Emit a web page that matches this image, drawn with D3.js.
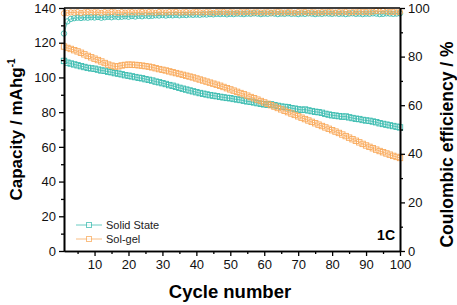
<!DOCTYPE html>
<html>
<head>
<meta charset="utf-8">
<script src="https://cdn.jsdelivr.net/npm/d3@7"></script>
<style>
  body { margin: 0; background: #fff; }
  svg { display: block; font-family: "Liberation Sans", Arial, sans-serif; }
</style>
</head>
<body>
<svg id="chart" width="457" height="305"></svg>
<script>
(function () {

    // capacity, mAh/g, cycles 1..100
    let solidCapacity = [
        109.5, 108.5, 108, 107.5, 107, 106.5, 106, 105.5, 105.2, 105,
        104.5, 104, 103.8, 103.3, 103, 102.5, 102.2, 101.8, 101.3, 101,
        100.6, 100.2, 99.8, 99.5, 99, 98.6, 98.2, 97.6, 97.2, 96.7,
        96.2, 95.6, 95.2, 94.6, 94, 93.5, 93, 92.5, 92, 91.5,
        91, 90.6, 90.2, 89.8, 89.5, 89.2, 88.8, 88.5, 88.2, 88,
        87.6, 87.3, 87, 86.6, 86.2, 86, 85.6, 85.2, 84.8, 84.5,
        84.3, 84.5, 84, 83.6, 83.2, 83, 82.8, 82.3, 82, 81.6,
        81.3, 81.5, 81, 80.6, 80.2, 80, 79.6, 79, 78.6, 78.2,
        78, 77.7, 77.4, 77.5, 77, 76.6, 76.2, 76, 75.5, 75.2,
        75, 74.6, 74.2, 73.6, 73.2, 72.8, 72.4, 72, 71.6, 71.2
    ];
    let solgelCapacity = [
        117.8, 117, 116.4, 115.7, 115, 114.2, 113.3, 112.4, 111.6, 110.8,
        110, 109.2, 108.3, 107.4, 106.8, 106.3, 106.4, 106.9, 107.2, 107.4,
        107.3, 107.2, 107, 106.8, 106.5, 106.2, 105.8, 105.3, 104.8, 104.4,
        104, 103.5, 103, 102.5, 102, 101.5, 101, 100.5, 100, 99.4,
        98.8, 98.2, 97.6, 97, 96.4, 95.8, 95.2, 94.5, 93.8, 93.1,
        92.4, 91.7, 91, 90.3, 89.5, 88.7, 88, 87.2, 86.4, 85.6,
        84.8, 84, 83.2, 82.4, 81.6, 80.8, 80, 79.2, 78.4, 77.6,
        76.8, 76, 75.2, 74.4, 73.6, 72.8, 72, 71.2, 70.4, 69.6,
        68.8, 68, 67.1, 66.2, 65.3, 64.4, 63.5, 62.6, 61.7, 60.8,
        60, 59.2, 58.4, 57.6, 56.9, 56.2, 55.5, 54.8, 54.2, 53.6
    ];
    // coulombic efficiency, %, cycles 1..100
    let solidCE = [
        89.5, 94.5, 95.5, 95.8, 96.0, 95.9, 96.1, 96.0, 96.2, 96.1,
        96.3, 96.0, 96.2, 96.4, 96.2, 96.5, 96.3, 96.4, 96.6, 96.4,
        96.7, 96.5, 96.8, 96.6, 96.9, 96.7, 96.8, 97.0, 96.9, 97.1,
        96.9, 97.1, 97.0, 97.2, 97.0, 97.2, 97.1, 97.3, 97.2, 97.3,
        97.2, 97.4, 97.3, 97.5, 97.4, 97.6, 97.5, 97.6, 97.4, 97.6,
        97.5, 97.7, 97.6, 97.5, 97.7, 97.6, 97.8, 97.7, 97.5, 97.7,
        97.6, 97.8, 97.7, 97.5, 97.7, 97.6, 97.8, 97.6, 97.7, 97.5,
        97.7, 97.6, 97.8, 97.7, 97.5, 97.7, 97.6, 97.8, 97.7, 97.6,
        97.8, 97.6, 97.7, 97.5, 97.7, 97.8, 97.6, 97.7, 97.5, 97.7,
        97.6, 97.8, 97.7, 97.5, 97.6, 97.8, 97.7, 97.6, 97.7, 97.8
    ];
    let solgelCE = [
        97.8, 98.0, 98.2, 98.1, 98.3, 98.0, 98.2, 98.4, 98.1, 98.3,
        98.2, 98.0, 98.3, 98.1, 98.4, 98.2, 98.0, 98.3, 98.1, 98.2,
        98.3, 98.1, 98.2, 98.4, 98.1, 98.3, 98.2, 98.0, 98.3, 98.2,
        98.1, 98.3, 98.2, 98.4, 98.1, 98.2, 98.3, 98.1, 98.2, 98.4,
        98.2, 98.1, 98.3, 98.2, 98.0, 98.3, 98.2, 98.4, 98.1, 98.3,
        98.2, 98.1, 98.3, 98.2, 98.4, 98.1, 98.2, 98.3, 98.1, 98.2,
        98.3, 98.1, 98.2, 98.4, 98.2, 98.1, 98.3, 98.2, 98.0, 98.3,
        98.2, 98.4, 98.1, 98.3, 98.2, 98.1, 98.3, 98.2, 98.4, 98.2,
        98.1, 98.3, 98.2, 98.4, 98.1, 98.3, 98.2, 98.5, 98.3, 98.4,
        98.2, 98.5, 98.8, 98.6, 98.9, 98.5, 98.3, 98.4, 98.2, 98.3
    ];

    let seriesNames = ["Solid State", "Sol-gel"];
    let xTicks = [10, 20, 30, 40, 50, 60, 70, 80, 90, 100];
    let xMinor = [5, 15, 25, 35, 45, 55, 65, 75, 85, 95];
    let yTicks = [0, 20, 40, 60, 80, 100, 120, 140];
    let yMinor = [10, 30, 50, 70, 90, 110, 130];
    let y2Ticks = [0, 20, 40, 60, 80, 100];
    let y2Minor = [10, 30, 50, 70, 90];

    let color = { "Solid State": "#3bbcb0", "Sol-gel": "#f9aa5c" };

    let margin = { top: 8, right: 57, bottom: 54, left: 64 };
    let svg = d3.select("#chart");
    let width = +svg.attr("width");
    let height = +svg.attr("height");
    let w = width - margin.left - margin.right;
    let h = height - margin.top - margin.bottom;

    let xScale = d3.scaleLinear().domain([1, 100]).range([0, w]);
    let yScale = d3.scaleLinear().domain([0, 140]).range([h, 0]);
    let y2Scale = d3.scaleLinear().domain([0, 100]).range([h, 0]);

    let g = svg.append("g").attr("transform", `translate(${margin.left}, ${margin.top})`);

    function toPoints(values) {
        return values.map((v, i) => ({ cycle: i + 1, value: v }));
    }

    let capSeries = [
        { name: "Solid State", points: toPoints(solidCapacity) },
        { name: "Sol-gel", points: toPoints(solgelCapacity) }
    ];
    let ceSeries = [
        { name: "Solid State", points: toPoints(solidCE) },
        { name: "Sol-gel", points: toPoints(solgelCE) }
    ];

    let capLine = d3.line().x(d => xScale(d.cycle)).y(d => yScale(d.value));
    let ceLine = d3.line().x(d => xScale(d.cycle)).y(d => y2Scale(d.value));

    // coulombic efficiency (circles)
    ceSeries.forEach(s => {
        let sg = g.append("g").attr("class", "ce");
        sg.append("path")
            .attr("d", ceLine(s.points))
            .attr("fill", "none")
            .attr("stroke", color[s.name])
            .attr("stroke-width", 0.8);
        sg.selectAll("circle").data(s.points).enter()
            .append("circle")
            .attr("cx", d => xScale(d.cycle))
            .attr("cy", d => y2Scale(d.value))
            .attr("r", 2.7)
            .attr("fill", "none")
            .attr("stroke", color[s.name])
            .attr("stroke-width", 0.9);
    });

    // capacity (squares)
    capSeries.forEach(s => {
        let sg = g.append("g").attr("class", "cap");
        sg.append("path")
            .attr("d", capLine(s.points))
            .attr("fill", "none")
            .attr("stroke", color[s.name])
            .attr("stroke-width", 0.8);
        sg.selectAll("rect").data(s.points).enter()
            .append("rect")
            .attr("x", d => xScale(d.cycle) - 2.7)
            .attr("y", d => yScale(d.value) - 2.7)
            .attr("width", 5.4)
            .attr("height", 5.4)
            .attr("fill", "none")
            .attr("stroke", color[s.name])
            .attr("stroke-width", 0.9);
    });

    // axes
    function styleAxis(sel) {
        sel.selectAll("path").attr("stroke", "#000").attr("stroke-width", 1.6);
        sel.selectAll(".tick line").attr("stroke", "#000").attr("stroke-width", 1.3);
        sel.selectAll("text").attr("font-family", "Liberation Sans, Arial, sans-serif")
            .attr("font-size", 13).attr("fill", "#111");
    }

    g.append("g").attr("transform", `translate(0, ${h})`)
        .call(d3.axisBottom(xScale).tickValues(xMinor).tickSize(3).tickSizeOuter(0).tickFormat(""))
        .call(styleAxis);
    g.append("g").attr("transform", `translate(0, ${h})`)
        .call(d3.axisBottom(xScale).tickValues(xTicks).tickSize(5).tickSizeOuter(0).tickPadding(4))
        .call(styleAxis);

    g.append("g")
        .call(d3.axisLeft(yScale).tickValues(yMinor).tickSize(3).tickSizeOuter(0).tickFormat(""))
        .call(styleAxis);
    g.append("g")
        .call(d3.axisLeft(yScale).tickValues(yTicks).tickSize(5).tickSizeOuter(0).tickPadding(3))
        .call(styleAxis);

    g.append("g").attr("transform", `translate(${w}, 0)`)
        .call(d3.axisRight(y2Scale).tickValues(y2Minor).tickSize(3).tickSizeOuter(0).tickFormat(""))
        .call(styleAxis);
    g.append("g").attr("transform", `translate(${w}, 0)`)
        .call(d3.axisRight(y2Scale).tickValues(y2Ticks).tickSize(5).tickSizeOuter(0).tickPadding(3))
        .call(styleAxis);

    g.append("line")
        .attr("x1", 0).attr("x2", w).attr("y1", 0).attr("y2", 0)
        .attr("stroke", "#000").attr("stroke-width", 1.6);

    // axis titles
    svg.append("text")
        .attr("x", margin.left + w / 2 - 2)
        .attr("y", 298)
        .attr("text-anchor", "middle")
        .attr("font-size", 18.5)
        .attr("font-weight", "bold")
        .text("Cycle number");

    let yTitle = svg.append("text")
        .attr("transform", `translate(22, ${margin.top + h / 2}) rotate(-90)`)
        .attr("text-anchor", "middle")
        .attr("font-size", 17)
        .attr("font-weight", "bold");
    yTitle.append("tspan").text("Capacity / mAhg");
    yTitle.append("tspan").attr("dy", -7).attr("font-size", 10).text("-1");

    svg.append("text")
        .attr("transform", `translate(453, ${margin.top + h / 2 + 15}) rotate(-90)`)
        .attr("text-anchor", "middle")
        .attr("font-size", 17.5)
        .attr("font-weight", "bold")
        .text("Coulombic efficiency / %");

    g.append("text")
        .attr("x", w - 5)
        .attr("y", h - 11)
        .attr("text-anchor", "end")
        .attr("font-size", 14)
        .attr("font-weight", "bold")
        .text("1C");

    // legend
    let legend = g.append("g").attr("transform", "translate(12, 217)");
    seriesNames.forEach((name, i) => {
        let row = legend.append("g").attr("transform", `translate(0, ${i * 14})`);
        row.append("line")
            .attr("x1", 0).attr("x2", 26).attr("y1", 0).attr("y2", 0)
            .attr("stroke", color[name]).attr("stroke-width", 1).attr("opacity", 0.75);
        row.append("rect")
            .attr("x", 10.5).attr("y", -2.5).attr("width", 5).attr("height", 5)
            .attr("fill", "#fff").attr("stroke", color[name]).attr("stroke-width", 1).attr("opacity", 0.75);
        row.append("text")
            .attr("x", 30).attr("y", 4)
            .attr("font-size", 11)
            .attr("fill", "#222")
            .text(name);
    });

})();
</script>
</body>
</html>
